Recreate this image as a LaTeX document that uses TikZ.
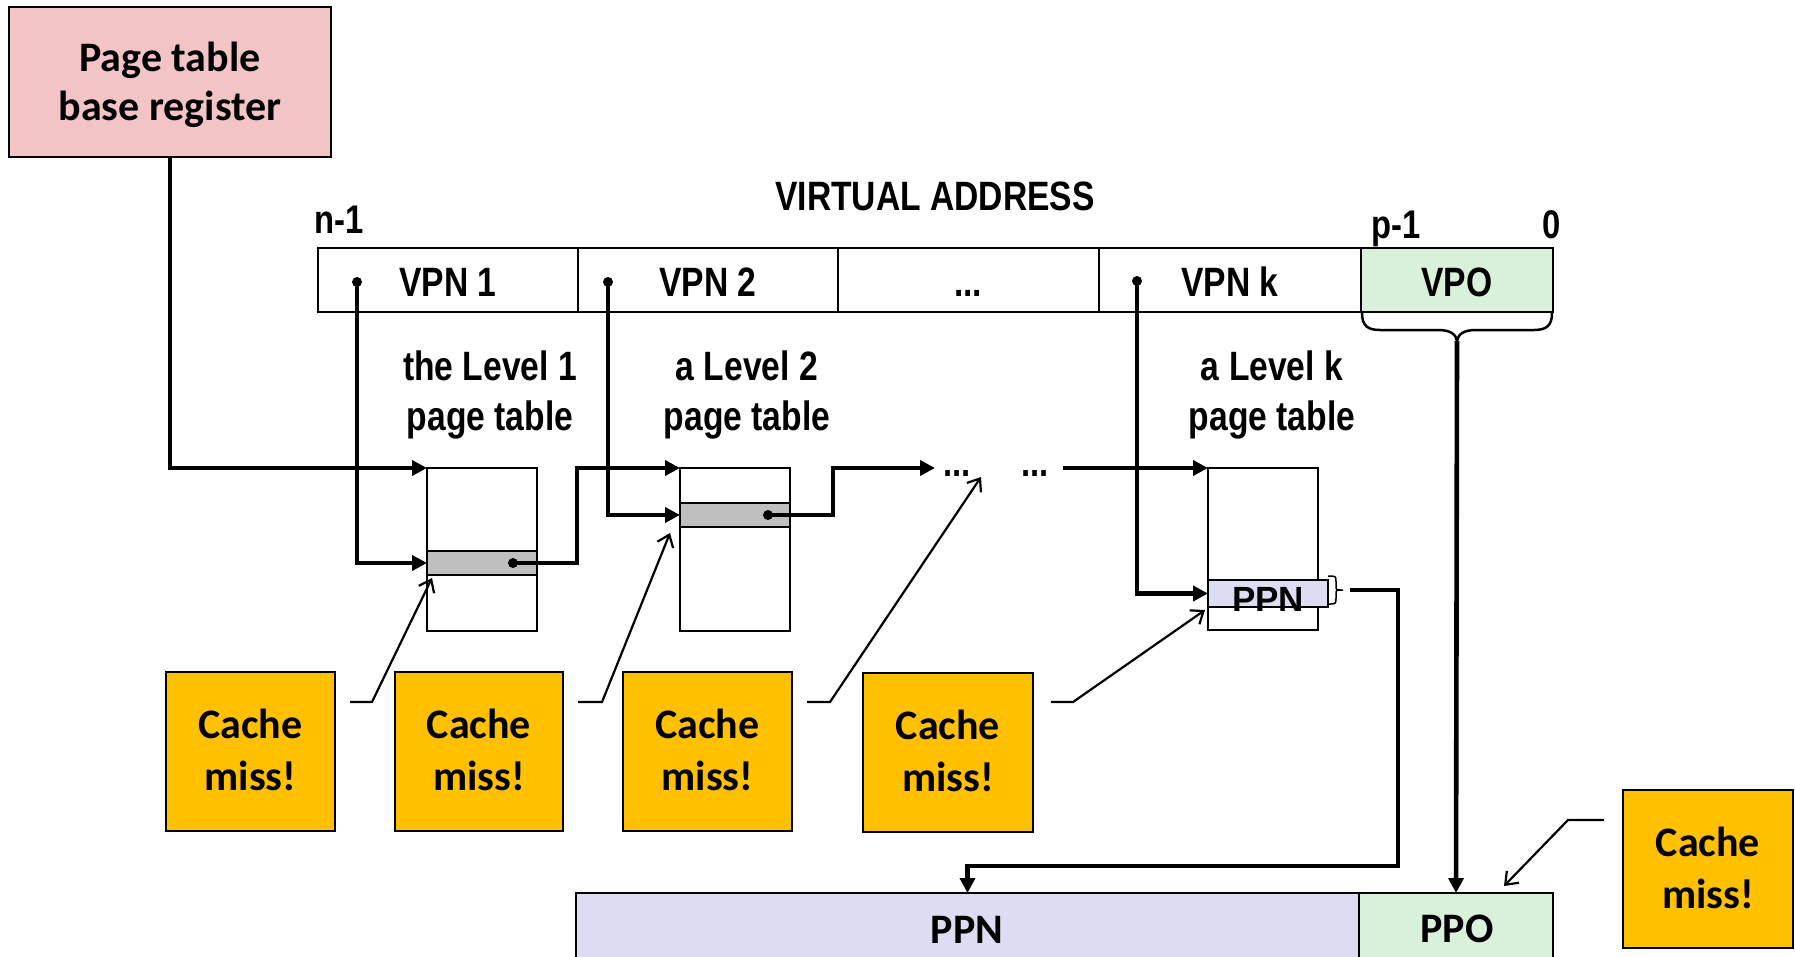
\documentclass[tikz,border=0pt]{standalone}
\usepackage{fontspec}
\setmainfont{Liberation Sans}
\newfontfamily\narr[FakeStretch=0.82]{Liberation Sans}
\newfontfamily\calib{Carlito}
\usetikzlibrary{arrows.meta}
\definecolor{ptbrpink}{HTML}{F2C4C6}
\definecolor{offgreen}{HTML}{D9F1DA}
\definecolor{lav}{HTML}{DCDDF3}
\definecolor{missorange}{HTML}{FFC000}
\definecolor{entgray}{HTML}{BFBFBF}
\tikzset{
  cell/.style={draw=black, line width=2.2pt, inner sep=0pt, outer sep=0pt, anchor=north west},
  conn/.style={line width=4.6pt, line join=miter},
  arr/.style={conn, -{Triangle[length=15pt,width=15pt]}},
  callout/.style={line width=2.2pt, -{Straight Barb[length=11pt,width=17pt,line width=2.2pt]}},
  dotnode/.style={circle, fill=black, inner sep=0pt, minimum size=10pt},
  nt/.style={font=\narr\bfseries\fontsize{41pt}{49pt}\selectfont, inner sep=0pt, anchor=base},
  st/.style={font=\narr\bfseries\fontsize{40pt}{44pt}\selectfont, inner sep=0pt},
  ct/.style={font=\calib\bfseries\fontsize{42pt}{49pt}\selectfont, inner sep=0pt, anchor=base},
}
\begin{document}
\begin{tikzpicture}[x=1pt,y=-1pt]
\clip (0,0) rectangle (1795,956);
\fill[white] (0,0) rectangle (1795,956);

% page table base register
\node[cell, fill=ptbrpink, minimum width=322pt, minimum height=150pt] (ptbr) at (9,7) {};
\node[ct] (ptbrA) at (170,71) {Page table};
\node[ct] (ptbrB) at (170,120) {base register};

% virtual address
\node[nt] (vatitle) at (935,210) {VIRTUAL ADDRESS};
\node[st, anchor=base west] (nminus) at (314,233) {n-1};
\node[st, anchor=base west] (pminus) at (1371,238) {p-1};
\node[st, anchor=base east] (zero) at (1561,238) {0};

\node[cell, minimum width=260pt, minimum height=64pt] (vpn1) at (318,248) {};
\node[cell, minimum width=260pt, minimum height=64pt] (vpn2) at (578,248) {};
\node[cell, minimum width=261pt, minimum height=64pt] (vpnd) at (838,248) {};
\node[cell, minimum width=262pt, minimum height=64pt] (vpnk) at (1099,248) {};
\node[cell, fill=offgreen, minimum width=192pt, minimum height=64pt] (vpo) at (1361,248) {};
\node[nt] (vpn1t) at (448,296) {VPN 1};
\node[nt] (vpn2t) at (708,296) {VPN 2};
\node[nt] (vpndt) at (968,296) {...};
\node[nt] (vpnkt) at (1230,296) {VPN k};
\node[nt] (vpot) at (1457,296) {VPO};

% brace under VPO
\draw[line width=2.5pt] (1362,313) .. controls (1362,326) and (1368,330) .. (1380,330)
  -- (1438,330) .. controls (1450,330) and (1456,334) .. (1457,341)
  .. controls (1458,334) and (1464,330) .. (1476,330)
  -- (1534,330) .. controls (1546,330) and (1552,326) .. (1552,313);
\coordinate (bracetip) at (1457,341);

% level labels
\node[nt] (l1a) at (490,380) {the Level 1};
\node[nt] (l1b) at (490,430) {page table};
\node[nt] (l2a) at (747,380) {a Level 2};
\node[nt] (l2b) at (747,430) {page table};
\node[nt] (lka) at (1272,380) {a Level k};
\node[nt] (lkb) at (1272,430) {page table};

% page tables
\node[cell, minimum width=110pt, minimum height=163pt] (t1) at (427,468) {};
\node[cell, fill=entgray, minimum width=110pt, minimum height=24pt] (e1) at (427,551) {};
\node[cell, minimum width=110pt, minimum height=163pt] (t2) at (680,468) {};
\node[cell, fill=entgray, minimum width=110pt, minimum height=24pt] (e2) at (680,503) {};
\node[cell, minimum width=110pt, minimum height=162pt] (tk) at (1208,468) {};
\node[cell, fill=lav, minimum width=120pt, minimum height=27pt] (ek) at (1208,580) {};
\node[font=\bfseries\fontsize{35pt}{38pt}\selectfont, inner sep=0pt, anchor=base] (ekt) at (1268,611) {PPN};
\draw[line width=1.5pt] (1328,576) .. controls (1336,576) .. (1336,582) -- (1336,586)
  .. controls (1336,590) .. (1343,590) .. controls (1336,590) .. (1336,594) -- (1336,598)
  .. controls (1336,604) .. (1328,604);

% chain dots
\node[st, anchor=base] (chd1) at (957,476) {...};
\node[st, anchor=base] (chd2) at (1035,476) {...};

% dots on VPN fields and entries
\node[dotnode] (d1) at (357,282) {};
\node[dotnode] (d2) at (608,282) {};
\node[dotnode] (dk) at (1137,281) {};
\node[dotnode] (de1) at (513,563) {};
\node[dotnode] (de2) at (768,515) {};

\coordinate (j1) at (577,563);
\coordinate (j2) at (833,515);
\coordinate (chainA) at (935,468);
\coordinate (chainB) at (1063,468);
\coordinate (po) at (1350,590);
\coordinate (pk1) at (1398,590);
\coordinate (pk2) at (1398,866);

% thick connectors
\draw[arr] (ptbr.south) |- (t1.north west);
\draw[arr] (d1.center) |- (e1.west);
\draw[arr] (d2.center) |- (e2.west);
\draw[arr] (dk.center) |- (ek.west);
\draw[arr] (de1.center) -- (j1) |- (t2.north west);
\draw[arr] (de2.center) -- (j2) |- (chainA);
\draw[arr] (chainB) -- (tk.north west);

% physical address
\node[cell, fill=lav, minimum width=783pt, minimum height=90pt] (ppn) at (576,893) {};
\node[cell, fill=offgreen, minimum width=194pt, minimum height=90pt] (ppo) at (1359,893) {};
\node[ct] (ppnt) at (967,943) {PPN};
\node[ct] (ppot) at (1457,942) {PPO};

\draw[arr] (bracetip) -- (ppo.north);
\draw[arr] (po) -- (pk1) -- (pk2) -| (ppn.north);

% cache miss boxes
\node[cell, fill=missorange, minimum width=169pt, minimum height=159pt] (c1) at (166,672) {};
\node[cell, fill=missorange, minimum width=168pt, minimum height=159pt] (c2) at (395,672) {};
\node[cell, fill=missorange, minimum width=169pt, minimum height=159pt] (c3) at (623,672) {};
\node[cell, fill=missorange, minimum width=170pt, minimum height=159pt] (c4) at (863,673) {};
\node[cell, fill=missorange, minimum width=170pt, minimum height=158pt] (c5) at (1623,790) {};
\node[ct] (c1a) at (250.5,738) {Cache};
\node[ct] (c1b) at (250.5,790) {miss!};
\node[ct] (c2a) at (479,738) {Cache};
\node[ct] (c2b) at (479,790) {miss!};
\node[ct] (c3a) at (707.5,738) {Cache};
\node[ct] (c3b) at (707.5,790) {miss!};
\node[ct] (c4a) at (948,739) {Cache};
\node[ct] (c4b) at (948,791) {miss!};
\node[ct] (c5a) at (1708,856) {Cache};
\node[ct] (c5b) at (1708,908) {miss!};

% callouts
\coordinate (k1a) at (350,702); \coordinate (k1b) at (372,702); \coordinate (k1t) at (432,578);
\coordinate (k2a) at (578,702); \coordinate (k2b) at (602,702); \coordinate (k2t) at (670,533);
\coordinate (k3a) at (807,702); \coordinate (k3b) at (830,702); \coordinate (k3t) at (981,477);
\coordinate (k4a) at (1051,702); \coordinate (k4b) at (1073,702); \coordinate (k4t) at (1205,610);
\coordinate (k5a) at (1604,820); \coordinate (k5b) at (1568,820); \coordinate (k5t) at (1504,886);
\draw[callout] (k1a) -- (k1b) -- (k1t);
\draw[callout] (k2a) -- (k2b) -- (k2t);
\draw[callout] (k3a) -- (k3b) -- (k3t);
\draw[callout] (k4a) -- (k4b) -- (k4t);
\draw[callout] (k5a) -- (k5b) -- (k5t);
\end{tikzpicture}
\end{document}
